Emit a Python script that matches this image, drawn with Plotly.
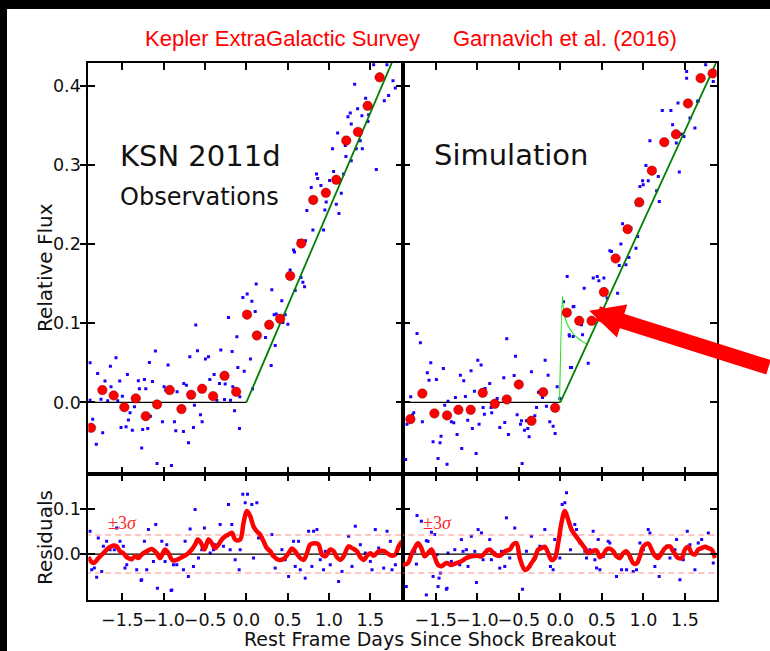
import plotly.graph_objects as go

# ------------------------------------------------------------------
# KSN 2011d (Kepler) early light curve: observations vs. simulation
# ------------------------------------------------------------------

# Binned flux (red circles), observations
obs_bin_x = [-1.879, -1.742, -1.605, -1.476, -1.338, -1.217, -1.080, -0.927,
             -0.785, -0.668, -0.535, -0.402, -0.264, -0.123, 0.008, 0.127,
             0.276, 0.409, 0.530, 0.664, 0.809, 0.962, 1.088, 1.209,
             1.350, 1.467, 1.612]
obs_bin_y = [-0.032, 0.0156, 0.0088, -0.0059, 0.0051, -0.0173, -0.0025, 0.0156,
             -0.0084, 0.0097, 0.0173, 0.0080, 0.0337, 0.0135, 0.111, 0.0847,
             0.0982, 0.1058, 0.160, 0.201, 0.256, 0.265, 0.2815, 0.331,
             0.342, 0.375, 0.411]

# Binned flux (red circles), simulation
sim_bin_x = [-1.805, -1.661, -1.516, -1.364, -1.227, -1.079, -0.934, -0.789,
             -0.645, -0.500, -0.348, -0.207, -0.063, 0.078, 0.227, 0.376,
             0.524, 0.665, 0.809, 0.950, 1.102, 1.251, 1.392, 1.536,
             1.689, 1.833]
sim_bin_y = [-0.0211, 0.0113, -0.0139, -0.0164, -0.0093, -0.0093, 0.0122, -0.0017,
             0.0038, 0.0227, -0.0232, 0.0130, -0.0068, 0.1135, 0.1032, 0.1032,
             0.1395, 0.182, 0.219, 0.253, 0.293, 0.329, 0.339, 0.378,
             0.410, 0.416]

# Individual 30-minute cadence points (blue), observations
obs_raw_x = [-1.891, -1.799, -1.710, -1.637, -1.577, -1.645, -1.532, -1.439,
             -1.306, -1.233, -1.173, -1.136, -1.100, -0.947, -1.294, -1.217,
             -0.995, -0.975, -0.838, -0.757, -0.725, -0.684, -0.591, -0.612,
             -0.495, -0.458, -0.390, -0.442, -0.309, -0.216, -0.172, -0.115,
             -0.103, -0.026, 0.050, -0.256, -0.325, -0.164, -0.079, -0.042,
             0.010, 0.067, -1.758, -1.677, -1.556, -1.500, -1.354, -1.407,
             -1.427, -1.516, -1.455, -1.379, -1.254, -1.193, -1.266, -1.161,
             -1.015, -0.870, -0.854, -0.761, -0.700, -0.640, -0.628, -0.555,
             -0.535, -0.357, -0.264, -0.192, -0.143, -0.083, -1.859, -1.738,
             -1.815, -1.080, -0.906, -1.891,
             0.107, 0.119, 0.074, 0.308, 0.337, 0.361, 0.502, 0.442,
             0.470, 0.232, 0.349, 0.300, 0.429, 0.530, 0.591, 0.660,
             0.684, 0.704, 0.635, 0.716, 0.571, 0.583, 0.805, 0.934,
             0.732, 0.785, 0.849, 0.862, 0.902, 0.950, 0.966, 1.007,
             1.055, 1.088, 1.120, 1.148, 1.176, 1.204, 1.104, 1.043,
             1.197, 1.269, 1.269, 1.330, 1.378, 1.403, 1.229, 1.257,
             1.346, 1.398, 1.443, 1.479, 1.471, 1.572, 1.310, 1.669,
             1.721, 1.774, 1.802, 1.540, 1.701]
obs_raw_y = [0.0501, 0.0367, 0.0270, 0.0198, 0.0565, 0.0459, 0.0270, 0.0354,
             0.0274, 0.0291, 0.0506, 0.0265, 0.0649, 0.0472, 0.0173, 0.0173,
             0.0198, 0.0156, 0.0135, 0.0240, 0.0219, 0.0577, 0.0653, 0.0978,
             0.0548, 0.0577, 0.0354, 0.0291, 0.0662, 0.1075, 0.0645, 0.0830,
             0.0442, 0.0396, 0.0548, 0.0232, 0.0240, 0.0198, 0.0072, 0.1327,
             0.1370, 0.1281, 0.0042, 0.0021, 0.0021, 0.0080, -0.0055, -0.0131,
             -0.0223, -0.0316, -0.0308, -0.0350, -0.0341, -0.0329, -0.0577, -0.0173,
             -0.0244, -0.0244, -0.0358, -0.0367, -0.0510, -0.0316, -0.0034, -0.0156,
             -0.0244, 0.0029, 0.0038, 0.0029, -0.0105, -0.0329, -0.0211, -0.0383,
             -0.0527, -0.0771, -0.0796, 0.0029,
             0.1150, 0.1496, 0.0169, 0.1424, 0.1108, 0.1117, 0.0990, 0.1011,
             0.1108, 0.0822, 0.0721, 0.0468, 0.1285, 0.1673, 0.1416, 0.1580,
             0.1521, 0.1462, 0.2044, 0.2044, 0.1926, 0.1901, 0.2179, 0.2179,
             0.2427, 0.2718, 0.2887, 0.2832, 0.2743, 0.2432, 0.2533, 0.2807,
             0.2920, 0.2507, 0.2389, 0.2646, 0.2887, 0.3110, 0.3405, 0.3207,
             0.3249, 0.3055, 0.3519, 0.3207, 0.3308, 0.3207, 0.3611, 0.3658,
             0.3713, 0.3624, 0.3847, 0.3637, 0.3552, 0.2946, 0.4024, 0.3814,
             0.3881, 0.4067, 0.3974, 0.4269, 0.4269]

# Individual points (blue), simulation
sim_raw_x = [-1.725, -1.685, -1.801, -1.765, -1.781, -1.846, -1.862, -1.661,
             -1.560, -1.601, -1.581, -1.492, -1.408, -1.392, -1.352, -1.532,
             -1.448, -1.436, -1.472, -1.364, -1.340, -1.312, -1.283, -1.263,
             -1.243, -1.203, -1.163, -1.143, -1.187, -1.115, -1.075, -1.059,
             -1.014, -0.994, -0.954, -0.978, -1.034, -0.930, -0.914, -0.906,
             -0.850, -0.826, -0.834, -0.761, -0.729, -0.669, -0.681, -0.645,
             -0.625, -0.540, -0.556, -0.520, -0.480, -0.468, -0.432, -0.408,
             -0.392, -0.376, -0.460, -0.348, -0.307, -0.287, -0.263, -0.215,
             -0.183, -0.147, -0.167, -0.127, -0.087, -0.063, -0.038, -0.006,
             0.038, 0.110, 0.122, 0.154,
             0.082, 0.163, 0.287, 0.106, 0.155, 0.255, 0.267, 0.335,
             0.135, 0.396, 0.444, 0.464, 0.524, 0.564, 0.689, 0.496,
             0.596, 0.616, 0.709, 0.729, 0.789, 0.825, 0.849, 0.910,
             0.930, 0.749, 0.918, 0.958, 0.998, 0.990, 1.030, 1.102,
             1.058, 1.159, 1.191, 1.432, 1.078, 1.179, 1.227, 1.331,
             1.351, 1.408, 1.460, 1.488, 1.396, 1.416, 1.560, 1.620,
             1.653, 1.520, 1.520, 1.749, 1.841, 1.833, 1.661]
sim_raw_y = [0.0872, 0.0754, 0.0071, -0.0131, -0.0160, -0.0274, -0.0721, -0.0245,
             0.0501, 0.0375, 0.0282, 0.0290, 0.0429, -0.0034, 0.0016, -0.0498,
             -0.0510, -0.0426, -0.0708, -0.0780, -0.0182, -0.0245, -0.0257, 0.0063,
             -0.0405, 0.0345, 0.0274, 0.0075, -0.0582, -0.0224, 0.0400, -0.0329,
             -0.0645, 0.0535, 0.0472, -0.0274, 0.0143, -0.0063, -0.0148, 0.0177,
             0.0240, -0.0131, -0.0063, 0.0050, -0.0316, -0.0253, 0.0311, 0.0805,
             -0.0405, 0.0585, 0.0341, -0.0156, -0.0274, -0.0232, -0.0350, -0.0232,
             -0.0329, -0.0434, -0.0771, 0.0387, -0.0169, -0.0063, 0.0130, 0.0063,
             0.0535, 0.0345, -0.0047, -0.0245, -0.0300, -0.0392, 0.0198, 0.0050,
             0.1272, 0.0839, 0.0442, 0.1209,
             0.1593, 0.1214, 0.1445, 0.0855, 0.0834, 0.0982, 0.0855, 0.0497,
             0.0442, 0.1572, 0.1593, 0.1538, 0.1572, 0.1319, 0.1382, 0.1416,
             0.1917, 0.1909, 0.1732, 0.2002, 0.1740, 0.1833, 0.2204, 0.1951,
             0.2099, 0.2259, 0.2499, 0.2731, 0.2752, 0.2802, 0.2996, 0.2899,
             0.2802, 0.2676, 0.2541, 0.2912, 0.3308, 0.2857, 0.3692, 0.3692,
             0.3510, 0.3375, 0.3392, 0.3363, 0.3279, 0.3784, 0.3595, 0.3468,
             0.3805, 0.4185, 0.4100, 0.4269, 0.4058, 0.4142, 0.3814]

# Model: flat pre-explosion level, then linear rise
obs_flat_x = [-1.95, 0.0]
obs_flat_y = [0.0, 0.0]
obs_rise_x = [0.0, 1.90]
obs_rise_y = [0.0, 0.4636]
sim_flat_x = [-1.95, 0.0]
sim_flat_y = [0.0, 0.0]
sim_rise_x = [0.0, 1.90]
sim_rise_y = [0.0, 0.4351]

# Shock-breakout spike in the simulated light curve
spike_x = [-0.010, 0.026, 0.034, 0.054, 0.094, 0.154, 0.215, 0.275, 0.320]
spike_y = [0.000, 0.1344, 0.1209, 0.1082, 0.0965, 0.0872, 0.0809, 0.0766, 0.0733]

# Residuals: individual points
res_obs_x = [-1.891, -1.871, -1.839, -1.811, -1.791, -1.750, -1.730, -1.690,
             -1.649, -1.597, -1.568, -1.528, -1.488, -1.468, -1.447, -1.387,
             -1.326, -1.266, -1.233, -1.205, -1.185, -1.124, -1.096, -1.064,
             -1.023, -0.983, -0.963, -0.902, -0.882, -0.842, -0.761, -0.741,
             -0.701, -0.680, -0.640, -0.620, -0.579, -0.539, -0.507, -0.438,
             -0.398, -0.378, -0.317, -0.277, -0.256, -0.216, -0.196, -0.176,
             -0.156, -0.135, -0.087, -0.075, -0.043, 0.014, -0.014, 0.026,
             0.066, 0.087, 0.127, 0.147, 0.188, 0.309, 0.349, 0.430,
             0.470, 0.511, 0.571, 0.591, 0.632, 0.652, 0.712, 0.753,
             0.793, 0.813, 0.854, 0.894, 0.934, 0.955, 1.015, 1.056,
             1.116, 1.157, 1.237, 1.278, 1.318, 1.379, 1.439, 1.500,
             1.520, 1.560, 1.601, 1.661, 1.702, 1.742, 1.762, 1.803,
             -1.076, -0.910, -1.274]
res_obs_y = [0.0504, -0.0348, -0.0311, -0.0511, 0.0356, -0.0385, 0.0170, 0.0281,
             0.0096, 0.0096, 0.0578, 0.0281, 0.0170, -0.0311, -0.0237, -0.0126,
             -0.0348, -0.0570, 0.0281, -0.0348, 0.0541, -0.0163, 0.0652, -0.0037,
             0.0281, -0.0163, 0.0207, -0.0793, -0.0237, -0.0237, -0.0348, 0.0281,
             -0.0496, 0.0556, -0.0274, 0.0985, -0.0089, 0.0096, 0.0578, 0.0022,
             0.0096, 0.0207, 0.0652, 0.0170, 0.0393, 0.1096, 0.0096, 0.0652,
             0.0430, -0.0126, -0.0348, 0.0096, 0.1319, 0.1319, 0.1133, 0.0874,
             0.1096, -0.0089, 0.1133, 0.0356, 0.0356, 0.0430, -0.0311, 0.0096,
             -0.0126, -0.0496, 0.0281, -0.0274, 0.0281, -0.0348, -0.0533, 0.0504,
             -0.0274, 0.0504, 0.0541, -0.0126, -0.0348, 0.0059, -0.0237, 0.0059,
             -0.0607, -0.0385, 0.0393, -0.0274, 0.0615, 0.0207, 0.0022, -0.0163,
             -0.0348, 0.0541, 0.0133, -0.0311, 0.0504, 0.0281, -0.0348, -0.0237,
             -0.0756, -0.0807, -0.0585]

res_sim_x = [-1.854, -1.753, -1.725, -1.673, -1.613, -1.593, -1.552, -1.532,
             -1.512, -1.484, -1.460, -1.444, -1.372, -1.352, -1.312, -1.271,
             -1.211, -1.191, -1.171, -1.131, -1.111, -1.071, -1.030, -1.010,
             -0.990, -0.950, -0.930, -0.882, -0.850, -0.830, -0.789, -0.729,
             -0.709, -0.669, -0.649, -0.609, -0.549, -0.528, -0.456, -0.408,
             -0.368, -0.348, -0.308, -0.247, -0.187, -0.167, -0.119, -0.087,
             -0.067, -0.006, 0.022, 0.074, 0.054, 0.122, 0.174, 0.194,
             0.235, 0.295, 0.315, 0.355, 0.395, 0.415, 0.436, 0.456,
             0.476, 0.516, 0.576, 0.596, 0.676, 0.737, 0.797, 0.837,
             0.877, 0.917, 0.958, 0.998, 1.058, 1.078, 1.138, 1.190,
             1.219, 1.279, 1.319, 1.379, 1.399, 1.439, 1.480, 1.528,
             1.560, 1.620, 1.660, 1.701, 1.781, 1.841, -1.613, -1.472,
             -1.364, -1.733]
res_sim_y = [-0.0719, 0.0059, 0.0852, 0.0726, 0.0296, 0.0281, 0.0481, -0.0496,
             0.0430, -0.0015, -0.0533, -0.0422, -0.0778, 0.0022, -0.0163, 0.0096,
             -0.0237, 0.0319, 0.0059, 0.0096, -0.0274, 0.0393, 0.0059, -0.0630,
             0.0541, 0.0467, -0.0126, 0.0096, 0.0319, -0.0126, 0.0022, -0.0311,
             0.0059, -0.0274, 0.0800, -0.0089, 0.0578, 0.0244, -0.0778, 0.0059,
             -0.0274, 0.0393, -0.0089, 0.0170, 0.0541, 0.0096, -0.0274, -0.0348,
             0.0319, -0.0089, 0.1096, 0.1356, 0.1133, 0.0096, 0.0652, 0.0541,
             0.0244, 0.0059, -0.0089, 0.0096, 0.0504, -0.0126, -0.0311, 0.0319,
             -0.0348, -0.0052, 0.0281, 0.0244, -0.0496, -0.0348, -0.0348, -0.0089,
             -0.0385, -0.0348, 0.0244, 0.0096, 0.0541, 0.0467, -0.0274, -0.0496,
             0.0022, 0.0170, -0.0089, 0.0096, 0.0319, -0.0570, -0.0126, 0.0504,
             0.0207, -0.0348, 0.0244, 0.0319, 0.0467, -0.0200, -0.0904, -0.0719,
             -0.0756, -0.0222]

# Residuals: running smooth (thick red)
res_obs_smooth_x = [-1.912, -1.851, -1.790, -1.730, -1.670, -1.610, -1.568, -1.528,
                    -1.488, -1.447, -1.387, -1.346, -1.306, -1.266, -1.205, -1.145,
                    -1.084, -1.044, -0.983, -0.943, -0.894, -0.842, -0.781, -0.721,
                    -0.660, -0.620, -0.587, -0.547, -0.507, -0.458, -0.418, -0.378,
                    -0.337, -0.297, -0.256, -0.216, -0.176, -0.135, -0.075, -0.034,
                    0.006, 0.046, 0.087, 0.127, 0.167, 0.208, 0.248, 0.289,
                    0.329, 0.390, 0.450, 0.511, 0.551, 0.591, 0.632, 0.692,
                    0.733, 0.773, 0.834, 0.874, 0.914, 0.955, 1.015, 1.056,
                    1.096, 1.136, 1.177, 1.237, 1.278, 1.338, 1.379, 1.419,
                    1.459, 1.500, 1.540, 1.601, 1.661, 1.702, 1.762, 1.803,
                    1.843, 1.883]
res_obs_smooth_y = [-0.007, -0.020, -0.009, 0.002, 0.013, 0.019, 0.017, 0.006,
                    0.002, -0.007, -0.011, -0.005, -0.009, -0.001, 0.006, 0.011,
                    0.002, -0.009, 0.010, 0.002, -0.014, -0.013, -0.007, -0.001,
                    0.010, 0.021, 0.032, 0.024, 0.010, 0.032, 0.024, 0.013,
                    0.021, 0.032, 0.039, 0.043, 0.047, 0.032, 0.032, 0.069,
                    0.095, 0.084, 0.061, 0.050, 0.043, 0.028, 0.013, 0.006,
                    -0.005, -0.013, -0.011, 0.002, 0.012, 0.006, -0.005, -0.013,
                    0.002, 0.021, 0.024, 0.021, -0.001, -0.005, 0.010, 0.006,
                    -0.007, -0.013, -0.005, 0.017, 0.013, 0.006, -0.007, -0.013,
                    -0.004, 0.002, -0.004, 0.006, 0.007, 0.002, -0.004, -0.001,
                    0.017, 0.028]

res_sim_smooth_x = [-1.894, -1.834, -1.793, -1.753, -1.713, -1.673, -1.633, -1.593,
                    -1.552, -1.512, -1.472, -1.432, -1.372, -1.312, -1.251, -1.191,
                    -1.131, -1.071, -1.010, -0.950, -0.890, -0.850, -0.789, -0.729,
                    -0.669, -0.609, -0.569, -0.528, -0.488, -0.428, -0.388, -0.348,
                    -0.308, -0.267, -0.227, -0.187, -0.147, -0.107, -0.067, -0.026,
                    0.014, 0.054, 0.094, 0.134, 0.174, 0.235, 0.295, 0.335,
                    0.375, 0.436, 0.476, 0.516, 0.556, 0.596, 0.636, 0.676,
                    0.717, 0.757, 0.797, 0.837, 0.877, 0.917, 0.958, 0.998,
                    1.058, 1.098, 1.138, 1.178, 1.219, 1.259, 1.319, 1.359,
                    1.420, 1.460, 1.500, 1.540, 1.580, 1.620, 1.660, 1.701,
                    1.741, 1.781, 1.821, 1.861]
res_sim_smooth_y = [-0.024, -0.020, -0.001, 0.013, 0.024, 0.013, -0.005, 0.002,
                    0.010, -0.007, -0.024, -0.027, -0.020, -0.024, -0.020, -0.016,
                    -0.009, -0.005, -0.004, -0.005, 0.006, 0.010, -0.001, -0.004,
                    0.006, 0.010, 0.021, 0.024, -0.009, -0.035, -0.031, -0.020,
                    -0.009, 0.010, 0.013, 0.016, 0.002, -0.013, -0.009, 0.024,
                    0.069, 0.095, 0.076, 0.054, 0.043, 0.028, 0.013, 0.002,
                    0.006, 0.008, -0.007, -0.001, 0.010, 0.012, 0.006, -0.005,
                    -0.009, 0.002, 0.006, -0.005, -0.020, -0.021, -0.005, 0.017,
                    0.023, 0.010, -0.004, -0.009, 0.002, 0.013, 0.017, 0.006,
                    -0.009, -0.009, 0.010, 0.016, 0.002, -0.001, 0.010, 0.013,
                    0.016, 0.013, 0.010, -0.009]

sigma3 = 0.042          # 3-sigma band of the residuals

# Ticks
x_ticks = [-1.5, -1.0, -0.5, 0.0, 0.5, 1.0, 1.5]
x_tick_text = ["\u22121.5", "\u22121.0", "\u22120.5", "0.0", "0.5", "1.0", "1.5"]
flux_ticks = [0.0, 0.1, 0.2, 0.3, 0.4]
flux_tick_text = ["0.0", "0.1", "0.2", "0.3", "0.4"]
res_ticks = [0.0, 0.1]
res_tick_text = ["0.0", "0.1"]

# ------------------------------------------------------------------
W, H = 770, 651
TICK_FONT = dict(family="DejaVu Sans", size=17.5, color="#111111")
FONT = "DejaVu Sans"

fig = go.Figure()

BLUE = "#1a00ff"
RED = "#ff0000"


def add_points(x, y, xa, ya):
    fig.add_trace(go.Scatter(x=x, y=y, xaxis=xa, yaxis=ya, mode="markers",
                             marker=dict(size=3, color=BLUE, symbol="square"),
                             hoverinfo="skip", showlegend=False))


def add_line(x, y, xa, ya, color, width, dash="solid", shape="linear"):
    fig.add_trace(go.Scatter(x=x, y=y, xaxis=xa, yaxis=ya, mode="lines",
                             line=dict(color=color, width=width, dash=dash, shape=shape),
                             hoverinfo="skip", showlegend=False))


def add_bins(x, y, xa, ya):
    fig.add_trace(go.Scatter(x=x, y=y, xaxis=xa, yaxis=ya, mode="markers",
                             marker=dict(size=9.5, color=RED,
                                         line=dict(color="rgba(110,0,0,0.55)", width=0.8)),
                             hoverinfo="skip", showlegend=False))


# Top-left: observations
add_points(obs_raw_x, obs_raw_y, "x", "y")
add_line(obs_flat_x, obs_flat_y, "x", "y", "#000000", 1.3)
add_line(obs_rise_x, obs_rise_y, "x", "y", "#008000", 1.8)
add_bins(obs_bin_x, obs_bin_y, "x", "y")

# Top-right: simulation
add_points(sim_raw_x, sim_raw_y, "x2", "y2")
add_line(sim_flat_x, sim_flat_y, "x2", "y2", "#000000", 1.3)
add_line(spike_x, spike_y, "x2", "y2", "#22e022", 1.1, shape="spline")
add_line(sim_rise_x, sim_rise_y, "x2", "y2", "#008000", 1.8)
add_bins(sim_bin_x, sim_bin_y, "x2", "y2")

# Residual panels
for (rx, ry, sx, sy, xa, ya, xr) in [
        (res_obs_x, res_obs_y, res_obs_smooth_x, res_obs_smooth_y, "x3", "y3", [-1.95, 1.95]),
        (res_sim_x, res_sim_y, res_sim_smooth_x, res_sim_smooth_y, "x4", "y4", [-1.95, 1.95])]:
    add_points(rx, ry, xa, ya)
    add_line(xr, [0, 0], xa, ya, "#000000", 1.3)
    add_line(xr, [sigma3, sigma3], xa, ya, "#ff8c8c", 1.1, dash="6px,4px")
    add_line(xr, [-sigma3, -sigma3], xa, ya, "#ff8c8c", 1.1, dash="6px,4px")
    add_line(sx, sy, xa, ya, RED, 4.5, shape="spline")

# Empty traces that carry the outward half of the left-hand ticks
fig.add_trace(go.Scatter(x=[], y=[], xaxis="x", yaxis="y5", showlegend=False))
fig.add_trace(go.Scatter(x=[], y=[], xaxis="x3", yaxis="y6", showlegend=False))

# ------------------------------------------------------------------
xl_dom = [88.3 / W, 403.0 / W]
xr_dom = [403.0 / W, 716.7 / W]
top_dom = [1 - 473.5 / H, 1 - 62.7 / H]
res_dom = [1 - 600.0 / H, 1 - 473.5 / H]

xl_range = [-1.912, 1.895]
xr_range = [-1.894, 1.882]
flux_range = [-0.0898, 0.4295]
res_range = [-0.1016, 0.178]

base = dict(showline=True, linecolor="#000000", linewidth=2, mirror="ticks",
            ticks="inside", ticklen=7, tickwidth=2, tickcolor="#000000",
            showgrid=False, zeroline=False, tickfont=TICK_FONT, automargin=False,
            fixedrange=True)


def xaxis(dom, rng, anchor, labels):
    return dict(base, domain=dom, range=rng, anchor=anchor, tickmode="array",
                tickvals=x_ticks, ticktext=x_tick_text, showticklabels=labels,
                tickangle=0, ticklabelstandoff=3)


def yaxis(dom, rng, anchor, vals, text, labels):
    return dict(base, domain=dom, range=rng, anchor=anchor, tickmode="array",
                tickvals=vals, ticktext=text, showticklabels=labels,
                ticklabelstandoff=2)


def yout(over, rng, vals):
    return dict(overlaying=over, range=rng, tickmode="array", tickvals=vals,
                ticks="outside", ticklen=7, tickwidth=2, tickcolor="#000000",
                showline=False, showgrid=False, zeroline=False,
                showticklabels=False, side="left", fixedrange=True)


fig.update_layout(
    width=W, height=H,
    margin=dict(l=0, r=0, t=0, b=0, pad=0),
    paper_bgcolor="#ffffff", plot_bgcolor="#ffffff",
    showlegend=False,
    xaxis=xaxis(xl_dom, xl_range, "y", False),
    yaxis=yaxis(top_dom, flux_range, "x", flux_ticks, flux_tick_text, True),
    xaxis2=xaxis(xr_dom, xr_range, "y2", False),
    yaxis2=yaxis(top_dom, flux_range, "x2", flux_ticks, flux_tick_text, False),
    xaxis3=xaxis(xl_dom, xl_range, "y3", True),
    yaxis3=yaxis(res_dom, res_range, "x3", res_ticks, res_tick_text, True),
    xaxis4=xaxis(xr_dom, xr_range, "y4", True),
    yaxis4=yaxis(res_dom, res_range, "x4", res_ticks, res_tick_text, False),
    yaxis5=yout("y", flux_range, flux_ticks),
    yaxis6=yout("y3", res_range, res_ticks),
)

ann = []
HEAD_FONT = dict(family="Liberation Sans", size=22, color="#ff0000")
# Header
ann.append(dict(text="Kepler ExtraGalactic Survey", x=282.4 / W, y=1 - 38 / H,
                xref="paper", yref="paper", showarrow=False, xanchor="center",
                yanchor="middle", font=HEAD_FONT))
ann.append(dict(text="Garnavich et al. (2016)", x=564.8 / W, y=1 - 38 / H,
                xref="paper", yref="paper", showarrow=False, xanchor="center",
                yanchor="middle", font=HEAD_FONT))
# Panel labels
ann.append(dict(text="KSN 2011d", x=-0.553, y=0.311, xref="x", yref="y",
                showarrow=False, xanchor="center", yanchor="middle",
                font=dict(family=FONT, size=29, color="#111111")))
ann.append(dict(text="Observations", x=-0.565, y=0.260, xref="x", yref="y",
                showarrow=False, xanchor="center", yanchor="middle",
                font=dict(family=FONT, size=24, color="#111111")))
ann.append(dict(text="Simulation", x=-0.596, y=0.3126, xref="x2", yref="y2",
                showarrow=False, xanchor="center", yanchor="middle",
                font=dict(family=FONT, size=29, color="#111111")))
# Axis titles
ann.append(dict(text="Relative Flux", x=45 / W, y=1 - 268 / H, xref="paper",
                yref="paper", showarrow=False, textangle=-90,
                xanchor="center", yanchor="middle",
                font=dict(family=FONT, size=20, color="#111111")))
ann.append(dict(text="Residuals", x=45 / W, y=1 - 538 / H, xref="paper",
                yref="paper", showarrow=False, textangle=-90,
                xanchor="center", yanchor="middle",
                font=dict(family=FONT, size=20, color="#111111")))
ann.append(dict(text="Rest Frame Days Since Shock Breakout", x=430 / W,
                y=1 - 639 / H, xref="paper", yref="paper", showarrow=False,
                xanchor="center", yanchor="middle",
                font=dict(family=FONT, size=19, color="#111111")))
# 3-sigma labels
for xa, ya, xv in [("x3", "y3", -1.50), ("x4", "y4", -1.48)]:
    ann.append(dict(text="\u00b13<i>\u03c3</i>", x=xv, y=0.0696, xref=xa, yref=ya,
                    showarrow=False, xanchor="center", yanchor="middle",
                    font=dict(family="Liberation Serif", size=18, color="#ff2a2a")))
# Arrow pointing at the breakout bump in the simulation
ann.append(dict(text="", x=0.347, y=0.116, xref="x2", yref="y2", showarrow=True,
                ax=181, ay=57, arrowhead=2, arrowsize=0.46, arrowwidth=15,
                arrowcolor="#ff0000", standoff=0))
fig.update_layout(annotations=ann)

# Dark frame along the top and left edges of the page
fig.update_layout(shapes=[
    dict(type="rect", xref="paper", yref="paper", x0=0, x1=1, y0=1 - 9 / H, y1=1,
         fillcolor="#000000", line_width=0, layer="below"),
    dict(type="rect", xref="paper", yref="paper", x0=0, x1=7 / W, y0=0, y1=1,
         fillcolor="#000000", line_width=0, layer="below"),
])

fig.write_html("out.html", config={"displayModeBar": False})
